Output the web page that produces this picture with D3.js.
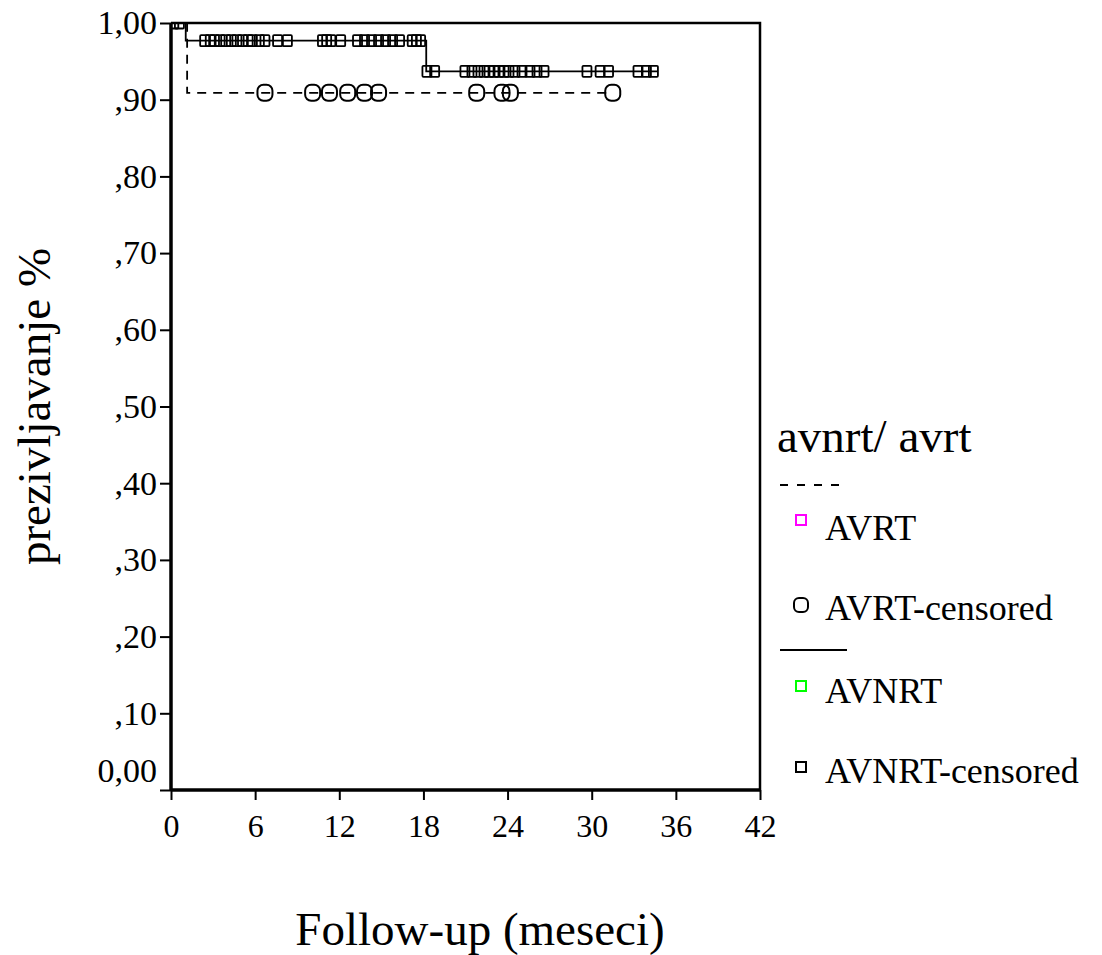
<!DOCTYPE html>
<html>
<head>
<meta charset="utf-8">
<script src="https://cdn.jsdelivr.net/npm/d3@7"></script>
<style>
  body { margin: 0; background: #fff; }
  svg text { font-family: "Liberation Serif", "Times New Roman", serif; fill: #000; }
</style>
</head>
<body>
<div id="chart"></div>
<script>
// Tick values and labels
const xTicks = [0, 6, 12, 18, 24, 30, 36, 42];
const yTicks = [0, 0.1, 0.2, 0.3, 0.4, 0.5, 0.6, 0.7, 0.8, 0.9, 1.0];
const yTickLabels = ["0,00", ",10", ",20", ",30", ",40", ",50", ",60", ",70", ",80", ",90", "1,00"];

// Kaplan-Meier steps [time, survival]
const avnrtSteps = [[0, 1.0], [1.05, 0.977], [18.2, 0.937]];
const avnrtEnd = 34.7;
const avrtSteps = [[0, 1.0], [1.15, 0.909]];
const avrtEnd = 31.5;

// Censored times
const avnrtCensored = [
  0.2, 0.6,
  2.4, 2.8, 3.1, 3.5, 3.9, 4.3, 4.7, 5.1, 5.5, 5.8, 6.3, 6.7,
  7.6, 8.3, 10.8, 11.1, 11.4, 12.1,
  13.3, 13.8, 14.3, 14.8, 15.3, 15.8, 16.3, 17.2, 17.5, 17.8,
  18.25, 18.8, 20.96, 21.46, 21.89, 22.32, 22.68, 23.03, 23.39, 23.75,
  24.1, 24.53, 25.03, 25.6, 26.1, 26.6, 29.66, 30.6, 31.2, 33.3, 33.9, 34.4
];
const avrtCensored = [6.7, 10.1, 11.3, 12.6, 13.8, 14.8, 21.8, 23.6, 24.2, 31.5];

// Legend entries
const legendTitle = "avnrt/ avrt";
const legendItems = ["AVRT", "AVRT-censored", "AVNRT", "AVNRT-censored"];

const width = 1102, height = 955;
const plot = { left: 171, right: 760, top: 23, bottom: 790 };

const svg = d3.select("#chart").append("svg")
  .attr("width", width)
  .attr("height", height);

svg.append("rect").attr("width", width).attr("height", height).attr("fill", "#fff");

const x = d3.scaleLinear().domain([0, 42]).range([plot.left, plot.right]);
const y = d3.scaleLinear().domain([0, 1]).range([plot.bottom, plot.top]);

// survival at time t from steps
function survAt(steps, t) {
  let s = steps[0][1];
  steps.forEach((d) => { if (t >= d[0]) s = d[1]; });
  return s;
}

svg.append("clipPath").attr("id", "plotClip")
  .append("rect")
  .attr("x", plot.left).attr("y", plot.top)
  .attr("width", plot.right - plot.left).attr("height", plot.bottom - plot.top);

// Frame (top and right)
svg.append("path")
  .attr("d", `M${plot.left},${plot.top}H${plot.right}V${plot.bottom}`)
  .attr("fill", "none").attr("stroke", "#000").attr("stroke-width", 2.5);

// X axis
const xAxis = svg.append("g")
  .attr("transform", `translate(0,${plot.bottom})`)
  .call(d3.axisBottom(x).tickValues(xTicks).tickSize(10).tickPadding(14).tickFormat(d3.format("d")));
xAxis.select(".domain").attr("stroke-width", 3.5).attr("d", `M${plot.left},0H${plot.right}`);
xAxis.selectAll(".tick line").attr("stroke-width", 2);
xAxis.selectAll("text").style("font-size", "32px").attr("fill", "#000").attr("font-family", null);

// Y axis
const yAxis = svg.append("g")
  .attr("transform", `translate(${plot.left},0)`)
  .call(d3.axisLeft(y).tickValues(yTicks).tickSize(11).tickPadding(3)
    .tickFormat((d, i) => yTickLabels[i]));
yAxis.select(".domain").attr("stroke-width", 3.5).attr("d", `M0,${plot.top}V${plot.bottom}`);
yAxis.selectAll(".tick line").attr("stroke-width", 2);
yAxis.selectAll("text").style("font-size", "34px").attr("fill", "#000").attr("font-family", null)
  .attr("dy", (d) => (d === 0 ? "-0.25em" : "0.32em"));

// Axis titles
svg.append("text")
  .attr("x", 480).attr("y", 945)
  .attr("text-anchor", "middle")
  .style("font-size", "47px")
  .text("Follow-up (meseci)");

svg.append("text")
  .attr("transform", `translate(50,${(plot.top + plot.bottom) / 2}) rotate(-90)`)
  .attr("text-anchor", "middle")
  .style("font-size", "47px")
  .text("prezivljavanje %");

// Curves
const line = d3.line()
  .x((d) => x(d[0]))
  .y((d) => y(d[1]))
  .curve(d3.curveStepAfter);

const plotG = svg.append("g").attr("clip-path", "url(#plotClip)");

plotG.append("path")
  .datum(avrtSteps.concat([[avrtEnd, avrtSteps[avrtSteps.length - 1][1]]]))
  .attr("d", line)
  .attr("fill", "none").attr("stroke", "#000").attr("stroke-width", 1.8)
  .attr("stroke-dasharray", "9,7");

plotG.append("path")
  .datum(avnrtSteps.concat([[avnrtEnd, avnrtSteps[avnrtSteps.length - 1][1]]]))
  .attr("d", line)
  .attr("fill", "none").attr("stroke", "#000").attr("stroke-width", 1.8);

// Censored marks
plotG.selectAll(".cens-avrt")
  .data(avrtCensored)
  .enter()
  .append("rect")
  .attr("class", "cens-avrt")
  .attr("x", (d) => x(d) - 7.5)
  .attr("y", (d) => y(survAt(avrtSteps, d)) - 8)
  .attr("width", 15).attr("height", 16)
  .attr("rx", 6).attr("ry", 6)
  .attr("fill", "none").attr("stroke", "#000").attr("stroke-width", 2);

plotG.selectAll(".cens-avnrt")
  .data(avnrtCensored)
  .enter()
  .append("rect")
  .attr("class", "cens-avnrt")
  .attr("x", (d) => x(d) - 4.5)
  .attr("y", (d) => y(survAt(avnrtSteps, d)) - 5.5)
  .attr("width", 9).attr("height", 11)
  .attr("rx", 1)
  .attr("fill", "none").attr("stroke", "#000").attr("stroke-width", 1.8);

// Legend
const lg = svg.append("g");
lg.append("text").attr("x", 777).attr("y", 452).style("font-size", "47px").text(legendTitle);

lg.append("line").attr("x1", 780).attr("x2", 847).attr("y1", 485).attr("y2", 485)
  .attr("stroke", "#000").attr("stroke-width", 2).attr("stroke-dasharray", "8,9");
lg.append("rect").attr("x", 796).attr("y", 515).attr("width", 10).attr("height", 10)
  .attr("fill", "none").attr("stroke", "#ff00ff").attr("stroke-width", 2);
lg.append("text").attr("x", 825).attr("y", 540).style("font-size", "36px").text(legendItems[0]);

lg.append("rect").attr("x", 794).attr("y", 598).attr("width", 14).attr("height", 14)
  .attr("rx", 5).attr("fill", "none").attr("stroke", "#000").attr("stroke-width", 2);
lg.append("text").attr("x", 825).attr("y", 620).style("font-size", "36px").text(legendItems[1]);

lg.append("line").attr("x1", 780).attr("x2", 847).attr("y1", 650).attr("y2", 650)
  .attr("stroke", "#000").attr("stroke-width", 2);
lg.append("rect").attr("x", 796).attr("y", 681).attr("width", 10).attr("height", 10)
  .attr("fill", "none").attr("stroke", "#00ff00").attr("stroke-width", 2);
lg.append("text").attr("x", 825).attr("y", 703).style("font-size", "36px").text(legendItems[2]);

lg.append("rect").attr("x", 796).attr("y", 762).attr("width", 10).attr("height", 10)
  .attr("fill", "none").attr("stroke", "#000").attr("stroke-width", 2);
lg.append("text").attr("x", 825).attr("y", 783).style("font-size", "36px").text(legendItems[3]);
</script>
</body>
</html>
